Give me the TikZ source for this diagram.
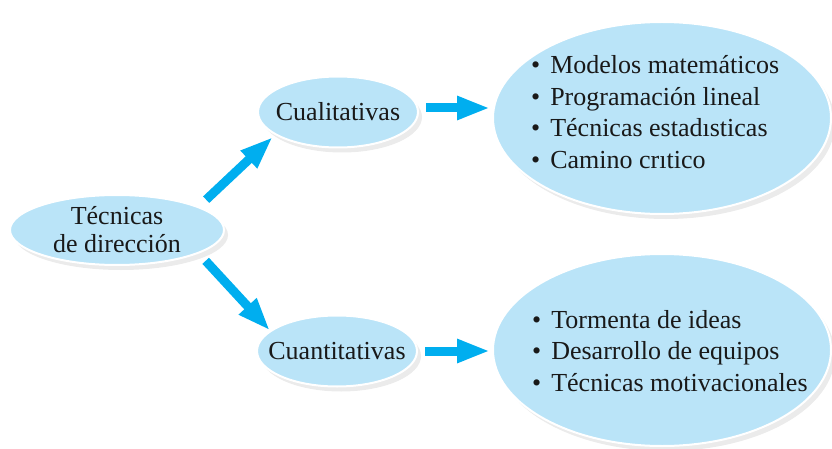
\documentclass[tikz,border=0pt]{standalone}
\usepackage{fontspec}
\setmainfont{Liberation Serif}
\usetikzlibrary{shapes.geometric,shadows,arrows.meta}
\definecolor{ovalblue}{RGB}{186,228,248}
\definecolor{arrowcyan}{RGB}{0,174,239}

\begin{document}
\begin{tikzpicture}[
        x=1pt, y=-1pt,
        oval/.style={ellipse, draw=white, line width=2pt, fill=ovalblue,
            drop shadow={shadow xshift=4pt, shadow yshift=-5pt, opacity=0.16},
            text=black!90, align=center, font=\fontsize{26}{28}\selectfont,
            inner xsep=-14pt, inner ysep=-6pt},
        small/.style={oval, minimum width=160pt, minimum height=71pt},
        big/.style={oval, minimum width=338pt, minimum height=192pt},
        listtext/.style={anchor=west, align=left, inner sep=0pt, text=black!90,
            font=\fontsize{26}{31.5}\selectfont},
        link/.style={draw=arrowcyan, line width=9pt, -{Triangle[length=33pt,width=22pt]},
            shorten <=7pt, shorten >=2pt},
    ]
    \useasboundingbox (0,0) rectangle (832,449);
    \node[oval, minimum width=214pt, minimum height=70pt] (tec) at (117,230) {Técnicas\\de dirección};
    \node[small] (cual) at (338,112) {Cualitativas};
    \node[small] (cuan) at (337,351) {Cuantitativas};
    \node[big] (qual) at (662,118) {};
    \node[big] (quan) at (662,350) {};

    \node[listtext] (qualtext) at ([xshift=-131pt, yshift=6pt]qual.center) {%
        \textbullet\hspace{10pt}Modelos matemáticos\\
        \textbullet\hspace{10pt}Programación lineal\\
        \textbullet\hspace{10pt}Técnicas estadısticas\\
        \textbullet\hspace{10pt}Camino crıtico};
    \node[listtext] (quantext) at ([xshift=-130pt, yshift=-1pt]quan.center) {%
        \textbullet\hspace{10pt}Tormenta de ideas\\
        \textbullet\hspace{10pt}Desarrollo de equipos\\
        \textbullet\hspace{10pt}Técnicas motivacionales};

    % arrows
    \draw[link, shorten <=10pt, shorten >=3pt] (tec.16) -- (cual.200);
    \draw[link, shorten <=10pt, shorten >=0pt] (tec.344) -- (cuan.163);
    \draw[link] ([yshift=4pt]cual.east) -- ([yshift=4pt]cual.east -| qual.west);
    \draw[link] (cuan.east) -- (cuan.east -| quan.west);
\end{tikzpicture}
\end{document}
